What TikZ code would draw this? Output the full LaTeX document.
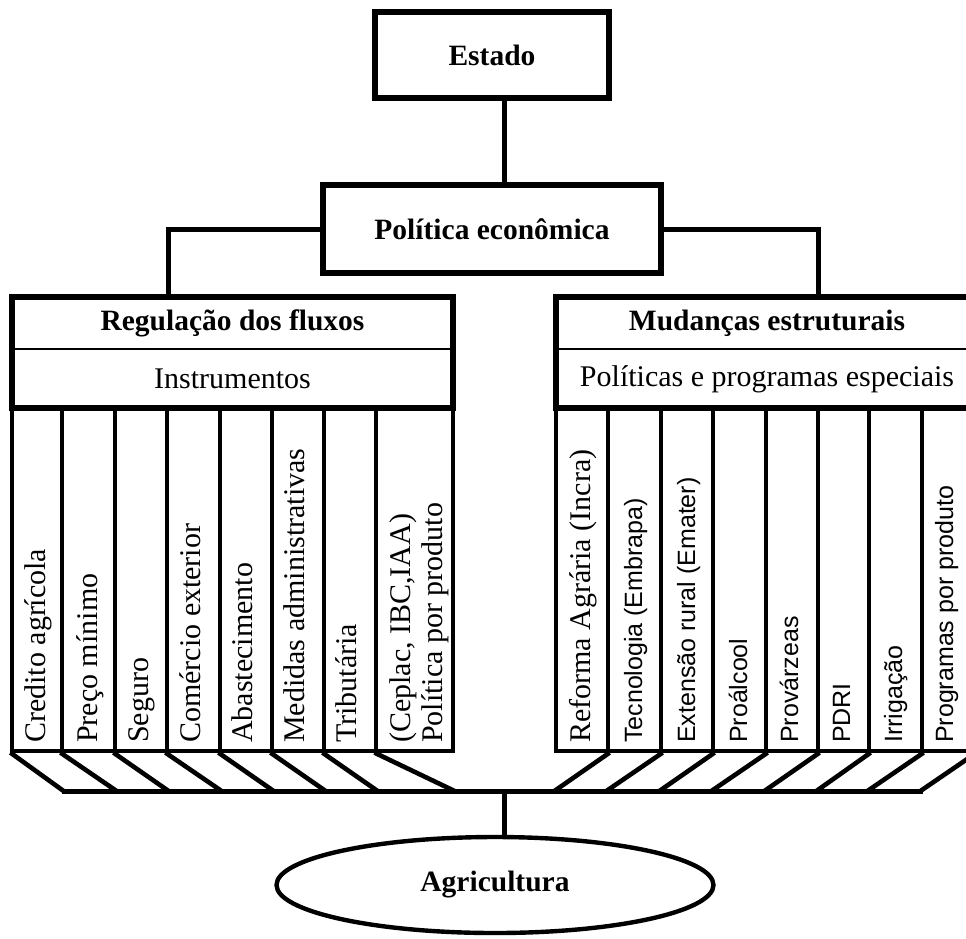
\documentclass[tikz,border=0pt]{standalone}
\usepackage{fontspec}
\setmainfont{Liberation Serif}
\newfontfamily\sansf{Liberation Sans}
\usetikzlibrary{shapes.geometric}

\begin{document}
\begin{tikzpicture}[x=1pt,y=-1pt,
  box/.style={draw, line width=5.2pt, inner sep=0pt},
  colbox/.style={draw, line width=3.2pt, inner sep=0pt, minimum height=343pt},
  link/.style={line width=5pt},
  slant/.style={line width=4.6pt},
  divider/.style={line width=2.6pt},
  boldtxt/.style={inner sep=0pt, font=\fontsize{29.5}{34}\selectfont\bfseries},
  serif/.style={inner sep=0pt, font=\fontsize{30}{34}\selectfont},
  vserif/.style={rotate=90, anchor=base west, inner sep=0pt, font=\fontsize{30}{34}\selectfont},
  vsans/.style={rotate=90, anchor=base west, inner sep=0pt, font=\fontsize{25}{30}\selectfont\sansf}
]
\clip (0,0) rectangle (966,938);

% guide coordinates for the vertical connectors
\coordinate (spine)  at (504,0);
\coordinate (lspine) at (168,0);
\coordinate (rspine) at (818,0);
\coordinate (busL)   at (62,791);
\coordinate (busR)   at (923,791);

% top of the hierarchy
\node[box, minimum width=234pt, minimum height=86pt, boldtxt] (estado) at (492,55) {Estado};
\node[box, minimum width=338pt, minimum height=88pt, boldtxt] (pol) at (492,229) {Política econômica};
\draw[link] (estado.south -| spine) -- (pol.north -| spine);

% the two branches
\node[box, minimum width=441pt, minimum height=111pt] (reg) at (232.5,352.5) {};
\node[box, minimum width=422pt, minimum height=111pt] (mud) at (767,352.5) {};
\draw[divider] ([yshift=3.5pt]reg.west) -- ([yshift=3.5pt]reg.east);
\draw[divider] ([yshift=3.5pt]mud.west) -- ([yshift=3.5pt]mud.east);
\node[boldtxt] (regt) at (232.5,323) {Regulação dos fluxos};
\node[serif]   (regs) at (232.5,379) {Instrumentos};
\node[boldtxt] (mudt) at (767,323) {Mudanças estruturais};
\node[serif]   (muds) at (767,379) {Políticas e programas especiais};
\draw[link] (pol.west) -| (reg.north -| lspine);
\draw[link] (pol.east) -| (mud.north -| rspine);

% instrument columns
\foreach \l/\r/\n in {12/62/1, 62/115/2, 115/167/3, 167/220/4, 220/272/5, 272/324/6, 324/376/7, 376/453/8}{
  \pgfmathsetmacro\w{\r-\l}
  \pgfmathsetmacro\cx{(\l+\r)/2}
  \node[colbox, minimum width=\w pt] (c\n) at (\cx,579.5) {};
}
\foreach \l/\r/\n in {556/608/1, 608/661/2, 661/713/3, 713/766/4, 766/818/5, 818/869/6, 869/922/7, 922/975/8}{
  \pgfmathsetmacro\w{\r-\l}
  \pgfmathsetmacro\cx{(\l+\r)/2}
  \node[colbox, minimum width=\w pt] (d\n) at (\cx,579.5) {};
}

% column labels
\node[vserif] (t1)  at (45,743)  {Credito agrícola};
\node[vserif] (t2)  at (97,743)  {Preço mínimo};
\node[vserif] (t3)  at (148,743) {Seguro};
\node[vserif] (t4)  at (200,743) {Comércio exterior};
\node[vserif] (t5)  at (252,743) {Abastecimento};
\node[vserif] (t6)  at (304,743) {Medidas administrativas};
\node[vserif] (t7)  at (356,743) {Tributária};
\node[vserif] (t8a) at (410,743) {(Ceplac, IBC,IAA)};
\node[vserif] (t8b) at (442,743) {Política por produto};

\node[vserif] (u1) at (590,743) {Reforma Agrária (Incra)};
\node[vsans]  (u2) at (642,743) {Tecnologia (Embrapa)};
\node[vsans]  (u3) at (695,743) {Extensão rural (Emater)};
\node[vsans]  (u4) at (747,743) {Proálcool};
\node[vsans]  (u5) at (798,743) {Provárzeas};
\node[vsans]  (u6) at (850,743) {PDRI};
\node[vsans]  (u7) at (902,743) {Irrigação};
\node[vsans]  (u8) at (953,743) {Programas por produto};

% slanted feeders into the common bar
\foreach \n in {1,...,8}{
  \draw[slant] (c\n.south west) -- (c\n.south east |- busL);
  \draw[slant] (d\n.south east) -- (d\n.south west |- busL);
}
\draw[link] (busL) -- (busR);

% target
\node[draw, ellipse, line width=4.4pt, minimum width=437pt, minimum height=96pt, boldtxt] (agri) at (495,885) {Agricultura};
\draw[link] (spine |- busL) -- (agri.north -| spine);
\end{tikzpicture}
\end{document}
